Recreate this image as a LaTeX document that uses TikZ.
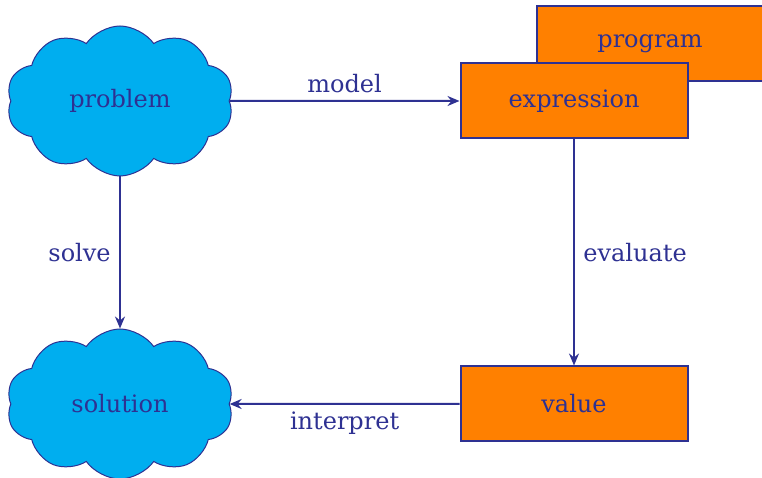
\documentclass[tikz,border=0pt]{standalone}
\usepackage{fontspec}
\setmainfont{DejaVu Serif}
\usetikzlibrary{shapes.symbols,arrows.meta}
\definecolor{ink}{HTML}{2E3192}
\definecolor{sky}{HTML}{00AEEF}
\definecolor{orng}{HTML}{FF8000}
\begin{document}
\begin{tikzpicture}[x=1pt,y=1pt,
  every node/.style={text=ink,font=\fontsize{24}{28}\selectfont},
  cloudbox/.style={cloud,cloud puffs=10,cloud puff arc=110,aspect=1.5,draw=ink,line width=1pt,fill=sky,minimum width=227pt,minimum height=150pt,inner sep=0pt},
  rectbox/.style={rectangle,draw=ink,line width=2pt,fill=orng,minimum width=227pt,minimum height=75pt,inner sep=0pt},
  conn/.style={draw=ink,line width=2pt,-{Stealth[length=12pt,width=10pt,inset=4pt]}}]
\useasboundingbox (0,0) rectangle (762,478);
\begin{scope}
\clip (0,0) rectangle (762,478);
\node[cloudbox] (problem) at (120,377) {problem};
\node[cloudbox] (solution) at (120,74) {solution};
\node[rectbox] (program) at (650,434) {program};
\node[rectbox] (expression) at (574,377) {expression};
\node[rectbox] (value) at (574,74) {value};
\end{scope}
\draw[conn] (problem.east) -- node[above=4pt] {model} (expression.west);
\draw[conn] (problem.south) -- node[left=5pt] {solve} (solution.north);
\draw[conn] (expression.south) -- node[right=5pt] {evaluate} (value.north);
\draw[conn] (value.west) -- node[below=4pt] {interpret} (solution.east);
\end{tikzpicture}
\end{document}
